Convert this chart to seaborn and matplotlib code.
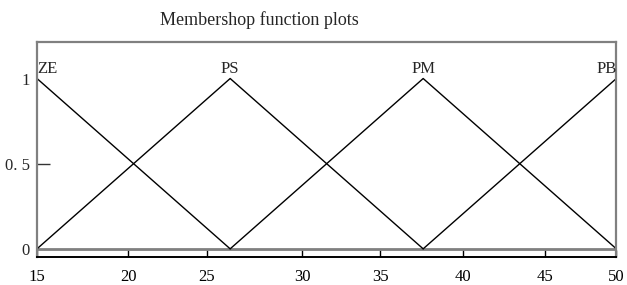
import pandas as pd
import matplotlib
matplotlib.use('Agg')
import matplotlib.pyplot as plt
import seaborn as sns

# membership function breakpoints (triangles)
ze_x = [15, 26.67]
ze_y = [1, 0]
ps_x = [15, 26.67, 38.33]
ps_y = [0, 1, 0]
pm_x = [26.67, 38.33, 50]
pm_y = [0, 1, 0]
pb_x = [38.33, 50]
pb_y = [0, 1]

names = ['ZE', 'PS', 'PM', 'PB']
peaks = [15, 26.67, 38.33, 50]

# x tick positions as placed on the original axis (they are uneven there)
xtick_pos = [15, 20.52, 25.26, 31.04, 35.73, 40.73, 45.71, 50]
xtick_labels = ['15', '20', '25', '30', '35', '40', '45', '50']
ytick_pos = [0, 0.5, 1]
ytick_labels = ['0', '0. 5', '1']

sns.set_theme(style='white')
plt.rcParams['font.family'] = ['Liberation Serif', 'DejaVu Serif']

df = pd.concat([
    pd.DataFrame({'mf': n, 'x': xs, 'y': ys})
    for n, xs, ys in zip(names, [ze_x, ps_x, pm_x, pb_x], [ze_y, ps_y, pm_y, pb_y])
])

fig, ax = plt.subplots(figsize=(6.27, 2.85), dpi=100)
fig.subplots_adjust(left=0.059, right=0.983, top=0.853, bottom=0.1)

sns.lineplot(
    data=df, x='x', y='y', hue='mf', units='mf', estimator=None,
    palette=['black'] * 4, legend=False, linewidth=1.0, ax=ax
)
ax.axhline(0, color='#808080', linewidth=2.0, zorder=1)

for n, p in zip(names, peaks):
    ha = 'left' if n == 'ZE' else ('right' if n == 'PB' else 'center')
    ax.text(p, 1.01, n, ha=ha, va='bottom', fontsize=12)

ax.set_xlim(15, 50)
ax.set_ylim(-0.045, 1.215)
ax.set_xticks(xtick_pos)
ax.set_xticklabels(xtick_labels)
ax.set_yticks(ytick_pos)
ax.set_yticklabels(ytick_labels)
# only the middle y tick shows a mark in the original
ax.yaxis.remove_overlapping_locs = False
ax.set_yticks([0.5], minor=True)
ax.set_xlabel('')
ax.set_ylabel('')
ax.tick_params(axis='x', direction='in', length=5, width=1, colors='black',
               pad=9, labelsize=12, bottom=True)
ax.tick_params(axis='y', which='major', direction='in', length=0,
               pad=5, labelsize=12, left=True)
ax.tick_params(axis='y', which='minor', direction='in', length=9, width=1,
               color='#333333', left=True)

for side in ['left', 'top', 'right']:
    ax.spines[side].set_color('#808080')
    ax.spines[side].set_linewidth(1.6)
ax.spines['bottom'].set_color('black')
ax.spines['bottom'].set_linewidth(1.4)

ax.set_title('Membershop function plots', fontsize=13, x=0.383, y=1.0, pad=12)

fig.savefig('out.png', dpi=100)
